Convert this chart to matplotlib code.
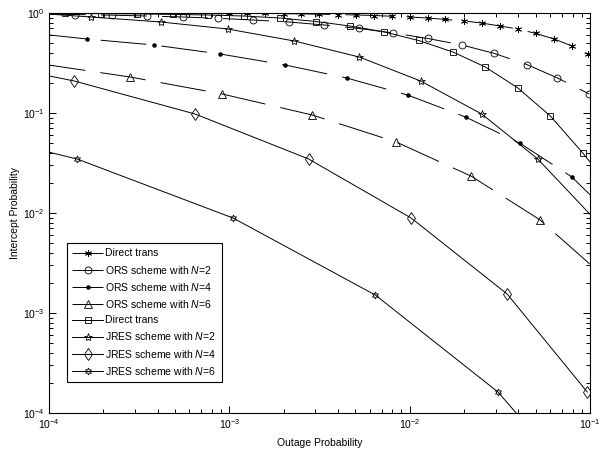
import matplotlib
matplotlib.use('Agg')
import matplotlib.pyplot as plt
from matplotlib.ticker import FuncFormatter, NullFormatter, LogLocator
import numpy as np

plt.rcParams['font.family'] = ['Liberation Sans', 'DejaVu Sans']
plt.rcParams['mathtext.fontset'] = 'custom'
plt.rcParams['mathtext.rm'] = 'Liberation Sans'
plt.rcParams['mathtext.it'] = 'Liberation Sans:italic'

# ORS curves (dashed), first point sits just left of the axes so the line starts at the edge
ors_direct_x = [8.9e-5, 1.0e-3, 1.26e-3, 1.58e-3, 2.0e-3, 2.51e-3, 3.16e-3, 3.98e-3, 5.01e-3,
                6.31e-3, 7.94e-3, 1.0e-2, 1.26e-2, 1.58e-2, 2.0e-2, 2.51e-2, 3.16e-2,
                3.98e-2, 5.01e-2, 6.31e-2, 7.94e-2, 9.7e-2]
ors_direct_y = [0.995, 0.993, 0.991, 0.989, 0.984, 0.98, 0.973, 0.966, 0.955, 0.944, 0.929,
                0.912, 0.891, 0.861, 0.832, 0.794, 0.741, 0.692, 0.624, 0.55, 0.468, 0.385]

ors_n2_x = [8.9e-5, 1.39e-4, 2.24e-4, 3.5e-4, 5.53e-4, 8.7e-4, 1.35e-3, 2.14e-3, 3.35e-3,
            5.25e-3, 8.13e-3, 1.26e-2, 1.95e-2, 2.95e-2, 4.47e-2, 6.6e-2, 9.9e-2]
ors_n2_y = [0.975, 0.966, 0.951, 0.933, 0.912, 0.885, 0.851, 0.813, 0.759, 0.70, 0.631,
            0.556, 0.479, 0.394, 0.305, 0.224, 0.155]

ors_n4_x = [8.9e-5, 1.62e-4, 3.8e-4, 8.91e-4, 2.04e-3, 4.47e-3, 9.77e-3, 2.04e-2, 4.07e-2,
            7.94e-2, 0.141]
ors_n4_y = [0.617, 0.55, 0.479, 0.389, 0.302, 0.224, 0.151, 0.0912, 0.0501, 0.0229, 0.0083]

ors_n6_x = [8.9e-5, 2.82e-4, 9.12e-4, 2.88e-3, 8.41e-3, 2.19e-2, 5.25e-2, 0.158]
ors_n6_y = [0.311, 0.229, 0.155, 0.0955, 0.0513, 0.0234, 0.0086, 0.00148]

# JRES curves (solid)
jres_direct_x = [8.9e-5, 1.23e-4, 1.95e-4, 3.09e-4, 4.9e-4, 7.59e-4, 1.2e-3, 1.91e-3, 3.02e-3,
                 4.68e-3, 7.24e-3, 1.12e-2, 1.74e-2, 2.63e-2, 3.98e-2, 6.03e-2, 9.12e-2, 0.138]
jres_direct_y = [0.995, 0.991, 0.986, 0.979, 0.968, 0.955, 0.933, 0.891, 0.822, 0.741, 0.646,
                 0.531, 0.407, 0.288, 0.178, 0.0933, 0.0398, 0.0158]

jres_n2_x = [8.9e-5, 1.7e-4, 4.17e-4, 9.77e-4, 2.29e-3, 5.25e-3, 1.15e-2, 2.51e-2, 5.13e-2, 0.11]
jres_n2_y = [0.99, 0.912, 0.813, 0.692, 0.525, 0.363, 0.209, 0.0977, 0.0347, 0.0081]

jres_n4_x = [8.9e-5, 1.38e-4, 6.46e-4, 2.75e-3, 1.02e-2, 3.47e-2, 9.66e-2]
jres_n4_y = [0.245, 0.209, 0.0977, 0.0347, 0.0089, 0.00155, 0.000162]

jres_n6_x = [8.9e-5, 1.43e-4, 1.05e-3, 6.46e-3, 3.09e-2, 0.1]
jres_n6_y = [0.0427, 0.0347, 0.0089, 0.00151, 0.000162, 1.41e-5]

labels = ['Direct trans',
          r'ORS scheme with $\mathit{N}$=2',
          r'ORS scheme with $\mathit{N}$=4',
          r'ORS scheme with $\mathit{N}$=6',
          'Direct trans',
          r'JRES scheme with $\mathit{N}$=2',
          r'JRES scheme with $\mathit{N}$=4',
          r'JRES scheme with $\mathit{N}$=6']

fig = plt.figure(figsize=(6.05, 4.51), dpi=100)
ax = fig.add_axes([49/605, 38/451, 541/605, 400/451])

lw = 0.7
dash = (33 / lw, 11 / lw)
kw = dict(color='black', linewidth=lw, markerfacecolor='none', markeredgecolor='black',
          markeredgewidth=0.6)

ax.plot(ors_direct_x, ors_direct_y, marker=(6, 2, 0), markersize=5, dashes=dash, label=labels[0], **kw)
ax.plot(ors_n2_x, ors_n2_y, marker='o', markersize=5, dashes=dash, label=labels[1], **kw)
ax.plot(ors_n4_x, ors_n4_y, marker='.', markersize=4.5, dashes=dash, label=labels[2],
        color='black', linewidth=lw, markerfacecolor='black', markeredgecolor='black')
ax.plot(ors_n6_x, ors_n6_y, marker='^', markersize=5.5, dashes=dash, label=labels[3], **kw)
ax.plot(jres_direct_x, jres_direct_y, marker='s', markersize=5, label=labels[4], **kw)
ax.plot(jres_n2_x, jres_n2_y, marker='*', markersize=6, label=labels[5], **kw)
ax.plot(jres_n4_x, jres_n4_y, marker='d', markersize=6, label=labels[6], **kw)
ax.plot(jres_n6_x, jres_n6_y, marker=(6, 1, 0), markersize=5, label=labels[7], **kw)

ax.set_xscale('log')
ax.set_yscale('log')
ax.set_xlim(1e-4, 1e-1)
ax.set_ylim(1e-4, 1)

def pow_fmt(v, pos):
    e = int(round(np.log10(v)))
    return r'$\mathregular{10^{%d}}$' % e

ax.xaxis.set_major_formatter(FuncFormatter(pow_fmt))
ax.yaxis.set_major_formatter(FuncFormatter(pow_fmt))
ax.xaxis.set_minor_locator(LogLocator(base=10, subs=np.arange(2, 10)))
ax.yaxis.set_minor_locator(LogLocator(base=10, subs=np.arange(2, 10)))
ax.xaxis.set_minor_formatter(NullFormatter())
ax.yaxis.set_minor_formatter(NullFormatter())

ax.tick_params(which='both', direction='in', top=True, right=True, labelsize=7.5, width=0.7)
ax.tick_params(which='major', length=5, pad=3)
ax.tick_params(which='minor', length=3)
for s in ax.spines.values():
    s.set_linewidth(0.8)

ax.set_xlabel('Outage Probability', fontsize=7.5, labelpad=5)
ax.set_ylabel('Intercept Probability', fontsize=7.5, labelpad=2)

leg = ax.legend(loc='lower left', bbox_to_anchor=(0.033, 0.0775), borderaxespad=0,
                fontsize=7.5, fancybox=False, framealpha=1, edgecolor='black',
                handlelength=3.0, labelspacing=0.5, handletextpad=0.2, borderpad=0.5)
leg.get_frame().set_linewidth(0.8)

fig.savefig('out.png', dpi=100)
